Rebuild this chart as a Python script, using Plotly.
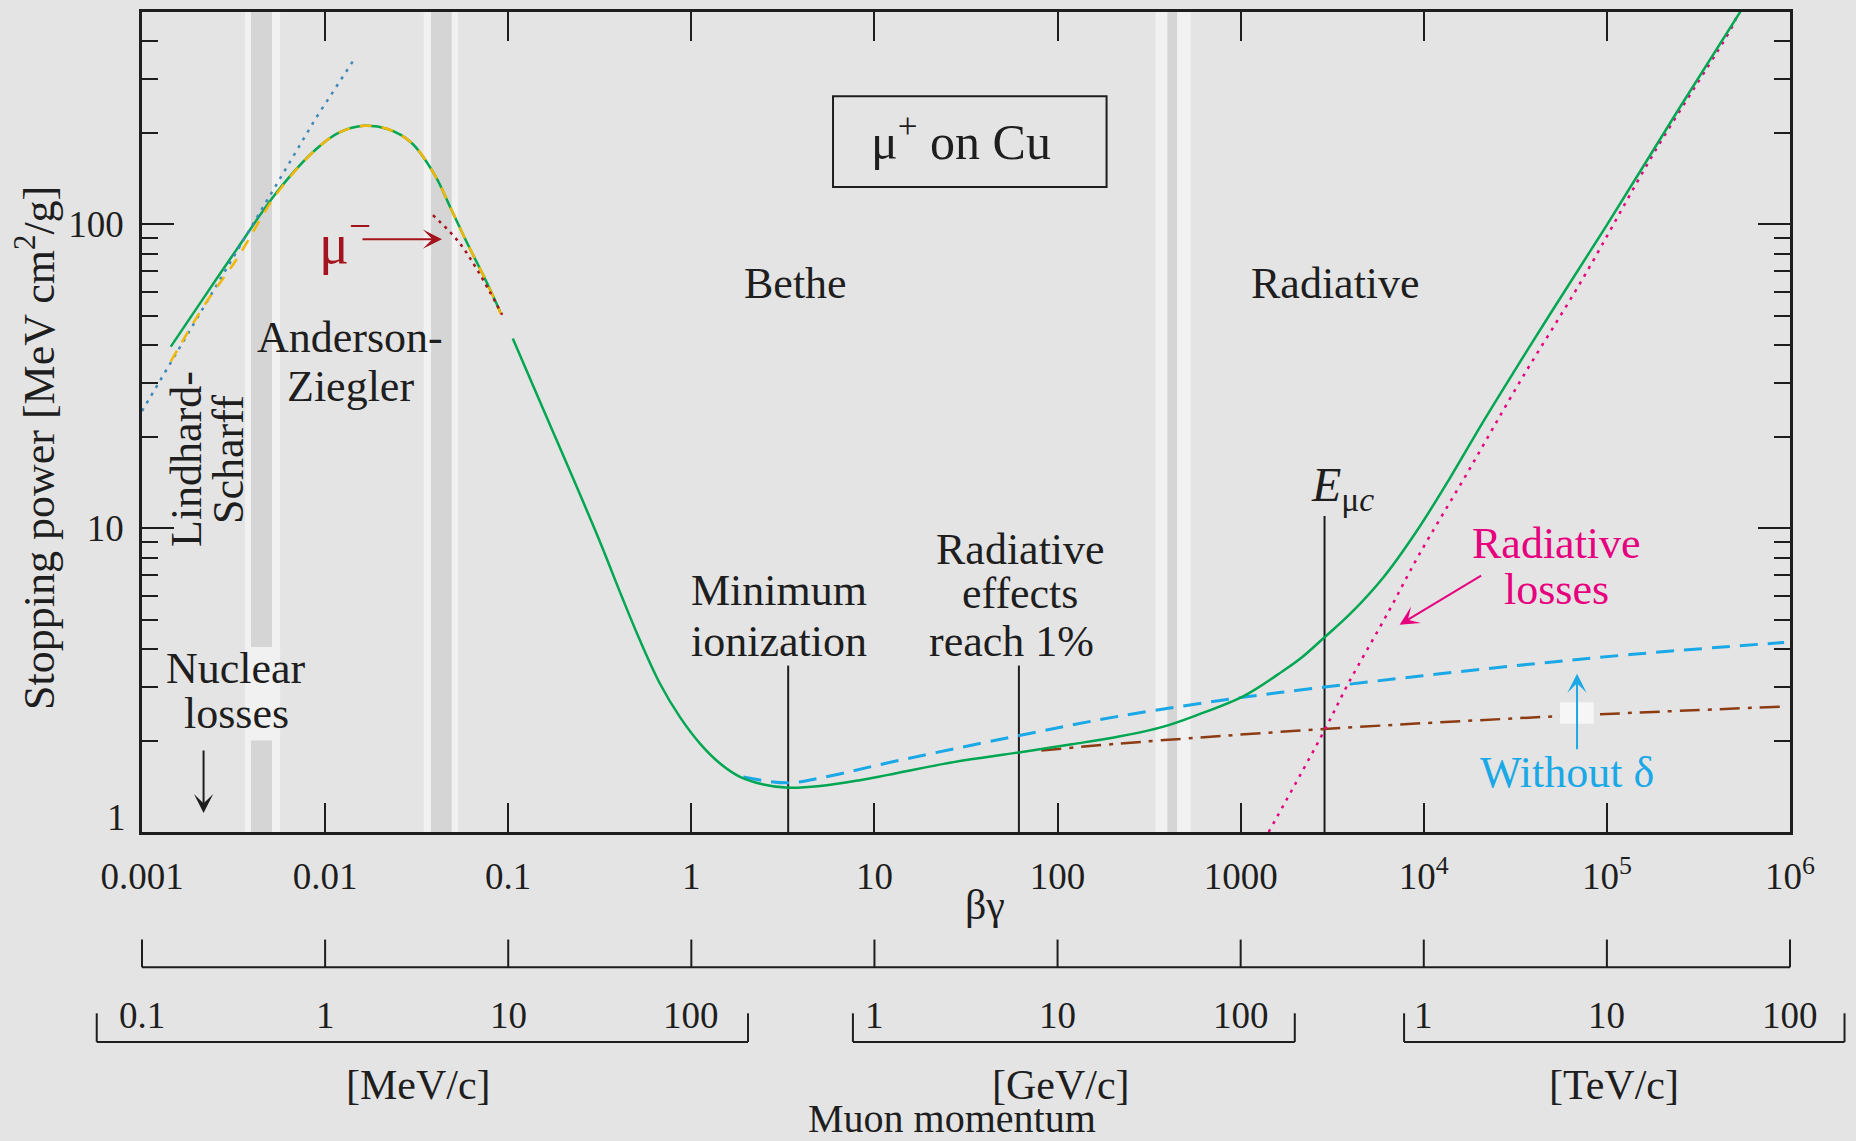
import numpy as np
import plotly.graph_objects as go

# ---------------- data ----------------
# total stopping power (green), low-energy part (Anderson-Ziegler region)
bg_low = [0.001436, 0.002223, 0.003311, 0.005445, 0.008954, 0.01205, 0.01626,
          0.02193, 0.02951, 0.03981, 0.04853, 0.05929, 0.07603, 0.09036]
sp_low = [39.6, 58.5, 83.2, 127.6, 177.0, 201.0, 211.0,
          206.0, 186.0, 145.0, 113.0, 87.5, 64.7, 51.6]

# total stopping power (green), Bethe + radiative part
bg_main = [0.1059, 0.1514, 0.3112, 0.4169, 0.5248, 0.6745, 0.8670, 1.1156, 1.4355,
           1.8450, 2.4717, 3.3884, 5.0466, 8.3368, 11.885, 27.04, 61.52, 119.7,
           216.3, 375.0, 572.8, 1050.0, 1702.0, 2110.8, 2871.0, 3958.0, 6012.0,
           9157.0, 13920.0, 21160.0, 32210.0, 48980.0, 99300.0, 246600.0, 535800.0]
sp_main = [42.07, 25.53, 9.268, 5.957, 4.266, 3.076, 2.388, 1.954, 1.680,
           1.518, 1.434, 1.398, 1.416, 1.481, 1.542, 1.698, 1.828, 1.945,
           2.061, 2.218, 2.421, 2.812, 3.388, 3.715, 4.375, 5.219, 6.883,
           9.790, 14.65, 22.47, 33.88, 50.70, 98.86, 239.3, 501.2]

# Anderson-Ziegler (yellow dashed)
bg_az = [0.001436, 0.002223, 0.003311, 0.005445, 0.008954, 0.01205, 0.01626,
         0.02193, 0.02951, 0.03981, 0.04853, 0.05929, 0.07603, 0.0912]
sp_az = [35.4, 54.95, 77.27, 126.2, 177.0, 201.0, 211.0,
         206.0, 186.0, 145.0, 113.0, 87.5, 64.7, 50.7]

# Lindhard-Scharff (blue dotted)
bg_ls = [0.001, 0.008954, 0.01422]
sp_ls = [24.3, 224.9, 345.0]

# mu- (red dotted)
bg_mum = [0.03882, 0.05370, 0.06871, 0.09268]
sp_mum = [107.2, 87.5, 69.8, 50.4]

# without delta-ray correction (blue dashed)
bg_nod = [1.923, 3.388, 5.968, 11.89, 55.46, 216.3, 1050.0, 2871.0, 21730.0, 133700.0, 929000.0]
sp_nod = [1.518, 1.452, 1.538, 1.690, 2.051, 2.404, 2.780, 2.999, 3.443, 3.837, 4.207]

# ionization only (brown dash-dot)
bg_ion = [81.47, 216.3, 2871.0, 53830.0, 929000.0]
sp_ion = [1.854, 1.954, 2.183, 2.404, 2.588]

# radiative losses (magenta dotted)
bg_rad = [1422.0, 2871.0, 3864.0, 6457.0, 9333.0, 17100.0, 33340.0, 73450.0,
          182400.0, 480800.0, 510500.0]
sp_rad = [1.0, 2.163, 3.076, 5.346, 8.091, 15.03, 30.2, 65.9, 173.4, 444.6, 482.0]

# marker lines: (beta*gamma, top value)
vlines = [(3.38, 3.53), (61.5, 3.53), (2871.0, 10.96)]

# axes ticks
x_tick_vals = [1e-3, 1e-2, 1e-1, 1, 10, 100, 1000, 1e4, 1e5, 1e6]
x_tick_text = ["0.001", "0.01", "0.1", "1", "10", "100", "1000",
               "10<sup>4</sup>", "10<sup>5</sup>", "10<sup>6</sup>"]
y_tick_vals = [1, 10, 100]
y_tick_text = ["1", "10", "100"]
y_minor_vals = [2, 3, 4, 5, 6, 7, 8, 9, 20, 30, 40, 50, 60, 70, 80, 90, 200, 300, 400]

# muon momentum scale (labels, bracket ends) per unit; beta*gamma ~ p / 100 MeV
mom_units = ["[MeV/c]", "[GeV/c]", "[TeV/c]"]
mom_bg_per_unit = [0.01, 10.0, 1e4]
mom_labels = [["0.1", "1", "10", "100"], ["1", "10", "100"], ["1", "10", "100"]]
mom_values = [[0.1, 1, 10, 100], [1, 10, 100], [1, 10, 100]]
mom_bracket = [(0.0566, 204.0), (0.763, 197.5), (0.7806, 198.5)]

# background stripes: (outer lo, outer hi, inner lo, inner hi) in beta*gamma
stripes = [(0.003652, 0.005675, 0.003936, 0.005129),
           (0.03455, 0.05318, 0.03788, 0.04914),
           (342.4, 533.3, 398.0, 449.5)]

# ---------------- styling ----------------
INK = "#1e1e1e"
BG = "#e4e4e4"
FONT = "Liberation Serif, Times New Roman, DejaVu Serif, serif"
GREEN = "#00a651"
SKY = "#1ba8e6"
BROWN = "#8c3b13"
MAGENTA = "#e6007e"
RED = "#a3141e"
GOLD = "#f2b705"
STEEL = "#3f88b8"

XR = [-3.0, 6.0]
YR = [0.0, float(np.log10(500))]


def px(v):
    return (np.log10(v) - XR[0]) / (XR[1] - XR[0])


def py(v):
    return (np.log10(v) - YR[0]) / (YR[1] - YR[0])


fig = go.Figure()


def line(x, y, color, width=2.5, dash="solid", shape="spline"):
    fig.add_trace(go.Scatter(x=x, y=y, mode="lines",
                             line=dict(color=color, width=width, dash=dash, shape=shape,
                                       smoothing=1.0),
                             hoverinfo="skip"))


for bgv, top in vlines:
    line([bgv, bgv], [1.0, top], INK, width=2, shape="linear")

line(bg_ion, sp_ion, BROWN, 2.5, "20px,8px,4px,8px")
line(bg_nod, sp_nod, SKY, 3, "18px,10px")
line(bg_rad, sp_rad, MAGENTA, 2.5, "3px,6px")
line(bg_low, sp_low, GREEN, 2.5)
line(bg_main, sp_main, GREEN, 2.5)
line(bg_ls, sp_ls, STEEL, 2.5, "3px,6px", shape="linear")
line(bg_az, sp_az, GOLD, 2.5, "12px,10px")
line(bg_mum, sp_mum, RED, 2.5, "3px,5px")

shapes = []
for olo, ohi, ilo, ihi in stripes:
    shapes.append(dict(type="rect", xref="paper", yref="paper", x0=px(olo), x1=px(ohi),
                       y0=0, y1=1, fillcolor="#f1f1f1", line=dict(width=0), layer="below"))
    shapes.append(dict(type="rect", xref="paper", yref="paper", x0=px(ilo), x1=px(ihi),
                       y0=0, y1=1, fillcolor="#d5d5d5", line=dict(width=0), layer="below"))
# light patch behind "Nuclear losses" over the first stripe
s0 = stripes[0]
shapes.append(dict(type="rect", xref="paper", yref="paper", x0=px(s0[0]), x1=px(s0[1]),
                   y0=py(2.0), y1=py(4.06), fillcolor="#f1f1f1", line=dict(width=0), layer="below"))
# white patch behind the "Without delta" arrow
shapes.append(dict(type="rect", xref="paper", yref="paper", x0=px(55460), x1=px(84720),
                   y0=py(2.273), y1=py(2.675), fillcolor="#f6f6f6", line=dict(width=0), layer="above"))
# title box
shapes.append(dict(type="rect", xref="paper", yref="paper", x0=px(5.94), x1=px(185.2),
                   y0=py(132.7), y1=py(263.8), fillcolor="rgba(0,0,0,0)",
                   line=dict(color=INK, width=2), layer="above"))

# lower beta*gamma scale
Y_BG_LINE, Y_BG_TICK = -0.1649, -0.1312
shapes.append(dict(type="line", xref="paper", yref="paper", x0=px(x_tick_vals[0]), x1=px(x_tick_vals[-1]),
                   y0=Y_BG_LINE, y1=Y_BG_LINE, line=dict(color=INK, width=2)))
for v in x_tick_vals:
    shapes.append(dict(type="line", xref="paper", yref="paper", x0=px(v), x1=px(v),
                       y0=Y_BG_LINE, y1=Y_BG_TICK, line=dict(color=INK, width=2)))
# momentum brackets
Y_MB_LINE, Y_MB_TICK = -0.2560, -0.2211
for (lo, hi), f in zip(mom_bracket, mom_bg_per_unit):
    a, b = px(lo * f), px(hi * f)
    shapes.append(dict(type="line", xref="paper", yref="paper", x0=a, x1=b,
                       y0=Y_MB_LINE, y1=Y_MB_LINE, line=dict(color=INK, width=2)))
    for e in (a, b):
        shapes.append(dict(type="line", xref="paper", yref="paper", x0=e, x1=e,
                           y0=Y_MB_LINE, y1=Y_MB_TICK, line=dict(color=INK, width=2)))

ann = []


def lab(text, bgx, val, size=44, color=INK, **kw):
    d = dict(text=text, x=float(np.log10(bgx)), y=float(np.log10(val)), xref="x", yref="y",
             xanchor="center", yanchor="middle",
             showarrow=False, font=dict(size=size, color=color, family=FONT))
    d.update(kw)
    ann.append(d)


def plab(text, xv, yp, size=42, **kw):
    d = dict(text=text, xref="x", yref="paper", x=float(np.log10(xv)), y=yp,
             xanchor="center", yanchor="middle", showarrow=False,
             font=dict(size=size, color=INK, family=FONT))
    d.update(kw)
    ann.append(d)


lab("μ<sup>+</sup> on Cu", 29.7, 192.0, size=50)
lab("Bethe", 3.703, 64.1)
lab("Radiative", 3289, 64.1)
lab("Anderson-", 0.01368, 42.4)
lab("Ziegler", 0.01368, 29.3)
lab("Lindhard-", 0.001762, 16.9, textangle=-90)
lab("Scharff", 0.002985, 16.9, textangle=-90)
lab("Nuclear", 0.003253, 3.452)
lab("losses", 0.003298, 2.458)
lab("μ<sup>−</sup>", 0.01285, 89.0, size=56, color=RED)
lab("Minimum", 3.0, 6.22)
lab("ionization", 3.0, 4.233)
lab("Radiative", 63.05, 8.527)
lab("effects", 62.2, 6.084)
lab("reach 1%", 56.1, 4.233)
lab("<i>E</i><sub>μ<i>c</i></sub>", 3581, 13.6, size=48)
lab("Radiative", 52800, 8.875, color=MAGENTA)
lab("losses", 52800, 6.27, color=MAGENTA)
lab("Without δ", 60460, 1.574, color=SKY)


def arrow(bgx, val, axp, ayp, color, size=1.6):
    ann.append(dict(text="", x=float(np.log10(bgx)), y=float(np.log10(val)), xref="x", yref="y",
                    showarrow=True, ax=axp, ay=ayp, axref="pixel", ayref="pixel",
                    arrowhead=3, arrowsize=size, arrowwidth=2, arrowcolor=color))


arrow(0.002169, 1.154, 0, -64, INK)
arrow(0.04348, 89.4, -81, 0, RED)
arrow(7379, 4.81, 83, -50, MAGENTA)
arrow(68700, 3.32, 0, 77, SKY)

# y tick label "1" (sits a little above its tick in the reference)
ann.append(dict(text="1", xref="paper", yref="paper", x=-0.0085, y=0.0182,
                xanchor="right", yanchor="middle", showarrow=False,
                font=dict(size=37, color=INK, family=FONT)))

# axis titles and lower scales
ann.append(dict(text="Stopping power [MeV cm<sup>2</sup>/g]", xref="paper", yref="paper",
                x=-0.0646, y=0.4678, textangle=-90, showarrow=False,
                xanchor="center", yanchor="middle",
                font=dict(size=44, color=INK, family=FONT)))
plab("βγ", 40.0, -0.0887, size=42)
for labels, vals, f in zip(mom_labels, mom_values, mom_bg_per_unit):
    for t, v in zip(labels, vals):
        plab(t, v * f, -0.2236, size=37)
for t, xpos in zip(mom_units, [0.03256, 104.5, 109100.0]):
    plab(t, xpos, -0.3086, size=42)
plab("Muon momentum", 26.5, -0.3490, size=40)

fig.update_layout(
    width=1856, height=1141,
    margin=dict(l=142, r=66, t=9, b=309),
    paper_bgcolor=BG, plot_bgcolor=BG,
    showlegend=False,
    font=dict(family=FONT, color=INK, size=37),
    shapes=shapes,
    annotations=ann,
    xaxis=dict(type="log", range=XR, tickmode="array", tickvals=x_tick_vals, ticktext=x_tick_text,
               ticks="inside", ticklen=29, tickwidth=2, tickcolor=INK,
               showline=True, linecolor=INK, linewidth=2.5, mirror="ticks",
               showgrid=False, zeroline=False, tickfont=dict(size=37, color=INK, family=FONT),
               ticklabelstandoff=10),
    yaxis=dict(type="log", range=YR, tickmode="array", tickvals=y_tick_vals,
               ticktext=["", "10", "100"],
               ticks="inside", ticklen=32, tickwidth=2, tickcolor=INK,
               showline=True, linecolor=INK, linewidth=2.5, mirror="ticks",
               showgrid=False, zeroline=False, tickfont=dict(size=37, color=INK, family=FONT),
               ticklabelstandoff=8,
               minor=dict(tickmode="array", tickvals=y_minor_vals, ticks="inside", ticklen=16,
                          tickwidth=2, tickcolor=INK, showgrid=False)),
)

fig.write_html("out.html", config={"displayModeBar": False},
               post_script="document.body.style.margin='0';")
